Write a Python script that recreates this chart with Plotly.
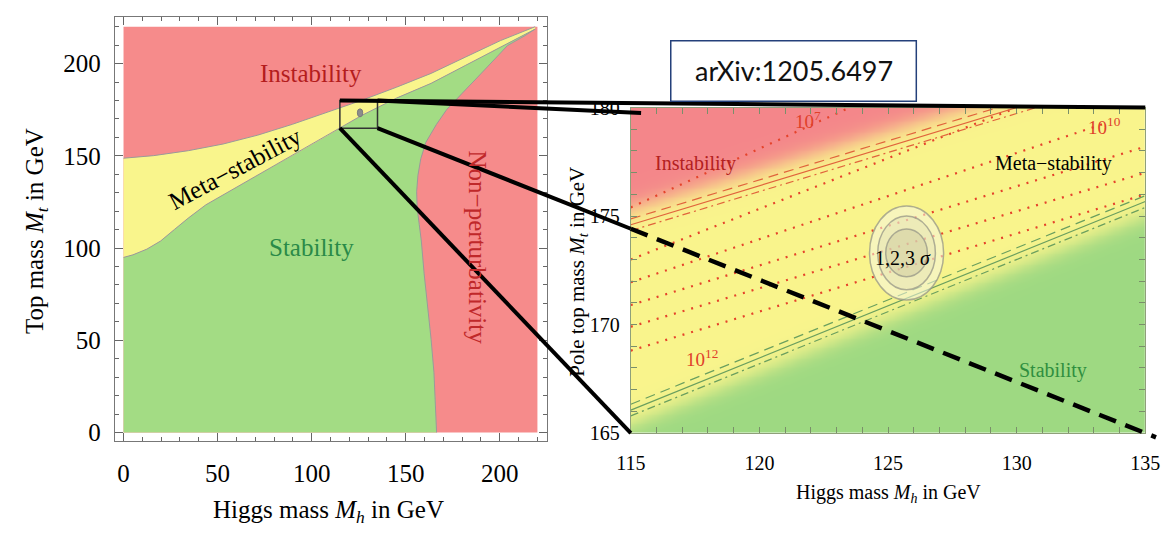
import numpy as np
import plotly.graph_objects as go

W, H = 1171, 540
SERIF = "Liberation Serif, Times New Roman, serif"

# ---------------- left panel: phase-diagram boundaries (GeV) ----------------
meta_upper_mh = [0, 16, 34.5, 52.9, 71.3, 89.8, 108.2, 126.6, 145.1, 163.5, 181.9, 200.4, 218.8]
meta_upper_mt = [148.7, 150.1, 152.8, 156.4, 161.2, 167.1, 173.6, 180.1, 187.2, 194.7, 203.6, 212.5, 220.0]

meta_lower_mh = [0, 5, 12.4, 19.7, 27.1, 34.5, 43.7, 52.9, 71.3, 89.8, 108.2, 126.6, 145.1, 163.5, 181.9, 200.4, 218.8]
meta_lower_mt = [94.9, 96.3, 99.4, 103.8, 110.1, 116.3, 123.4, 128.8, 139.4, 150.1, 160.8, 171.9, 181.3, 189.3, 199.1, 208.9, 218.7]

nonpert_mh = [218.8, 213.3, 204.1, 198.5, 189.3, 180.1, 171.8, 166.3, 160.7, 158.0, 156.5, 155.8,
              156.1, 157.2, 158.3, 159.8, 161.7, 163.5, 165.0, 165.9, 166.4]
nonpert_mt = [218.7, 215.1, 209.8, 203.6, 193.8, 184.0, 175.1, 167.0, 157.3, 148.4, 139.4, 130.5,
              121.6, 112.7, 103.8, 86.0, 68.2, 50.4, 32.6, 14.8, 0.0]

plot_max = 220.0

# ---------------- right panel: zoomed region (GeV) ----------------
zoom_mh = [115, 135]
zoom_mt = [165, 180]

# instability (meta-stability edge) and absolute-stability lines: end points
inst_mh = [115, 135]
inst_mt = [174.6, 181.8]
stab_mh = [115, 135]
stab_mt = [166.06, 175.67]
band_offsets = [0.27, 0.0, -0.27]          # dashed, solid, dash-dot
band_dashes = ["10px,6px", "solid", "8px,4px,2px,4px"]

# instability-scale contours (dotted): start / end points
lam_start_mh = [115, 115, 115, 115, 115, 115]
lam_start_mt = [175.4, 173.0, 171.95, 170.9, 169.9, 168.8]
lam_end_mh = [123.5, 130.0, 133.5, 135, 135, 135]
lam_end_mt = [180.0, 180.0, 179.3, 178.2, 177.0, 176.0]

# measured Higgs / top masses and 1,2,3 sigma contours
mh_best, mt_best = 125.72, 173.3
sig_dmh = [1.44, 1.12, 0.81]
sig_dmt = [2.17, 1.70, 1.10]
sig_fill = ["rgba(245,245,225,0.55)", "rgba(215,212,180,0.30)", "rgba(195,190,150,0.35)"]

# ---------------- colours ----------------
L_RED, L_YEL, L_GRN = "#f68b8b", "#f9f58c", "#a3dc84"
R_RED, R_YEL, R_GRN = "#f4868a", "#f9f48c", "#9ed982"

# axis placement
LX_DOM, LY_DOM = [0.08753, 0.46627], [0.17037, 0.98852]
LX_RNG, LY_RNG = [-4.6, 225.1], [-4.5, 225.3]
RX_DOM, RY_DOM = [632 / W, 1160 / W], [1 - 440 / H, 1 - 100.7 / H]


def to_paper(v, rng, dom):
    return dom[0] + (v - rng[0]) / (rng[1] - rng[0]) * (dom[1] - dom[0])


fig = go.Figure()

# ---- left panel regions ----
fig.add_trace(go.Scatter(x=[0, plot_max, plot_max, 0], y=[0, 0, plot_max, plot_max], fill="toself",
                         fillcolor=L_RED, mode="none", hoverinfo="skip"))
fig.add_trace(go.Scatter(x=meta_upper_mh + meta_lower_mh[::-1], y=meta_upper_mt + meta_lower_mt[::-1],
                         fill="toself", fillcolor=L_YEL, mode="none", hoverinfo="skip"))
fig.add_trace(go.Scatter(x=[0] + meta_lower_mh + nonpert_mh[1:], y=[0] + meta_lower_mt + nonpert_mt[1:],
                         fill="toself", fillcolor=L_GRN, mode="none", hoverinfo="skip"))
for bx, by in [(meta_upper_mh, meta_upper_mt), (meta_lower_mh, meta_lower_mt), (nonpert_mh, nonpert_mt)]:
    fig.add_trace(go.Scatter(x=bx, y=by, mode="lines", line=dict(color="#9a9a9a", width=1), hoverinfo="skip"))

# ---- right panel background ----
gx = np.linspace(zoom_mh[0], zoom_mh[1], 241)
gy = np.linspace(zoom_mt[0], zoom_mt[1], 181)
GX, GY = np.meshgrid(gx, gy)
mt_inst = np.interp(GX, inst_mh, inst_mt)
mt_stab = np.interp(GX, stab_mh, stab_mt)
w_red = 1 / (1 + np.exp(-(GY - mt_inst - 0.75) / 0.28))
w_grn = 1 / (1 + np.exp((GY - mt_stab + 0.65) / 0.28))
fig.add_trace(go.Heatmap(x=gx, y=gy, z=w_red - w_grn, zmin=-1, zmax=1, zsmooth="best",
                         colorscale=[[0, R_GRN], [0.5, R_YEL], [1, R_RED]], showscale=False,
                         hoverinfo="skip", xaxis="x2", yaxis="y2"))

# dotted instability-scale contours
for x0, y0, x1, y1 in zip(lam_start_mh, lam_start_mt, lam_end_mh, lam_end_mt):
    fig.add_trace(go.Scatter(x=[x0, x1], y=[y0, y1], mode="lines", xaxis="x2", yaxis="y2",
                             line=dict(color="#e5432b", width=2.2, dash="2px,7px"), hoverinfo="skip"))

# instability / stability bands
for (bmh, bmt, col) in [(inst_mh, inst_mt, "#e0643c"), (stab_mh, stab_mt, "#6a9f5e")]:
    for off, dash in zip(band_offsets, band_dashes):
        fig.add_trace(go.Scatter(x=bmh, y=[v + off for v in bmt], mode="lines", xaxis="x2", yaxis="y2",
                                 line=dict(color=col, width=1.2, dash=dash), hoverinfo="skip"))

shapes = []
# sigma contours in the zoom and the dot in the full diagram
for dmh, dmt, fc in zip(sig_dmh, sig_dmt, sig_fill):
    shapes.append(dict(type="circle", xref="x2", yref="y2", x0=mh_best - dmh, x1=mh_best + dmh,
                       y0=mt_best - dmt, y1=mt_best + dmt, fillcolor=fc,
                       line=dict(color="rgba(150,150,135,0.75)", width=1.5), layer="above"))
shapes.append(dict(type="circle", xref="x", yref="y", x0=mh_best - sig_dmh[0], x1=mh_best + sig_dmh[0],
                   y0=mt_best - sig_dmt[0], y1=mt_best + sig_dmt[0], fillcolor="#8c8c8c",
                   line=dict(color="#7a7a7a", width=1)))

# zoom rectangle in the full diagram
shapes.append(dict(type="rect", xref="x", yref="y", x0=zoom_mh[0], x1=zoom_mh[1], y0=zoom_mt[0], y1=zoom_mt[1],
                   line=dict(color="#333333", width=1.5)))

# connector lines from the rectangle to the zoomed panel
def lp(mh, mt):
    return to_paper(mh, LX_RNG, LX_DOM), to_paper(mt, LY_RNG, LY_DOM)


def rp(mh, mt):
    return to_paper(mh, zoom_mh, RX_DOM), to_paper(mt, zoom_mt, RY_DOM)


def seg(p, q, dash="solid", width=4):
    return dict(type="line", xref="paper", yref="paper", x0=p[0], y0=p[1], x1=q[0], y1=q[1],
                line=dict(color="black", width=width, dash=dash), layer="above")


shapes.append(seg(lp(zoom_mh[0], zoom_mt[1]), rp(zoom_mh[1], zoom_mt[1])))
shapes.append(seg(lp(zoom_mh[1], zoom_mt[1]), rp(zoom_mh[0] + 0.4, zoom_mt[1] - 0.25)))
shapes.append(seg(lp(zoom_mh[0], zoom_mt[0]), rp(zoom_mh[0], zoom_mt[0])))
p0 = lp(zoom_mh[1], zoom_mt[0])
p1 = rp(zoom_mh[1], zoom_mt[0])
t_edge = (RX_DOM[0] - p0[0]) / (p1[0] - p0[0])
t_end = (1.0 - p0[0]) / (p1[0] - p0[0])
pe = (p0[0] + t_edge * (p1[0] - p0[0]), p0[1] + t_edge * (p1[1] - p0[1]))
pz = (p0[0] + t_end * (p1[0] - p0[0]), p0[1] + t_end * (p1[1] - p0[1]))
shapes.append(seg(p0, pe))
shapes.append(seg(pe, pz, dash="18px,10px", width=4.5))

# reference box
shapes.append(dict(type="rect", xref="paper", yref="paper", x0=673 / W, x1=925 / W, y0=1 - 94 / H, y1=1 - 31 / H,
                   line=dict(color="#24407a", width=1.5), fillcolor="white"))


def note(text, x, y, size, color="black", ref="paper", angle=0, family=SERIF):
    xr, yr = (ref, ref) if ref == "paper" else ("x" + ref[1:], "y" + ref[1:])
    return dict(text=text, x=x, y=y, xref=xr, yref=yr, showarrow=False, textangle=angle,
                xanchor="center", yanchor="middle", font=dict(family=family, size=size, color=color))


annotations = [
    note("arXiv:1205.6497", 799 / W, 1 - 62.5 / H, 27, "#111111", family="Lato, Open Sans, sans-serif"),
    # full diagram labels
    note("Instability", 99.9, 194.7, 25, "#b41d1d", ref="x"),
    note("Stability", 99.9, 100.3, 25, "#2a8a48", ref="x"),
    note("Meta−stability", 59.4, 143.0, 25, "black", ref="x", angle=-28),
    note("Non−perturbativity", 188.4, 100.3, 25, "#c0282a", ref="x", angle=90),
    note("Top mass <i>M<sub>t</sub></i> in GeV", 21.5 / W, 1 - 229.5 / H, 25, angle=-90),
    note("Higgs mass <i>M<sub>h</sub></i> in GeV", 322 / W, 1 - 522 / H, 25),
    # zoom labels
    note("Instability", 117.53, 177.44, 20, "#b32020", ref="x2"),
    note("Meta−stability", 131.45, 177.44, 20, "black", ref="x2"),
    note("Stability", 131.4, 167.9, 20, "#2f8f3f", ref="x2"),
    note("1,2,3 <i>σ</i>", 125.6, 173.08, 20, "black", ref="x2"),
    note("10<sup>7</sup>", 121.9, 179.44, 19, "#e0402a", ref="x2"),
    note("10<sup>10</sup>", 133.43, 179.15, 19, "#e0402a", ref="x2"),
    note("10<sup>12</sup>", 117.78, 168.46, 19, "#e0402a", ref="x2"),
    note("Pole top mass <i>M<sub>t</sub></i> in GeV", 577.6 / W, 1 - 272 / H, 21, angle=-90),
    note("Higgs mass <i>M<sub>h</sub></i> in GeV", 896 / W, 1 - 503 / H, 20),
]

axis_common = dict(showgrid=False, zeroline=False, showline=True, mirror="ticks", ticks="inside",
                   ticklabeloverflow="allow")
fig.update_layout(
    width=W, height=H, margin=dict(l=0, r=0, t=0, b=0),
    paper_bgcolor="white", plot_bgcolor="white", showlegend=False,
    xaxis=dict(domain=LX_DOM, range=LX_RNG, tickvals=[0, 50, 100, 150, 200], ticklen=8, tickcolor="#666",
               linecolor="#777", linewidth=1.2, ticklabelstandoff=10,
               minor=dict(tick0=0, dtick=10, ticks="inside", ticklen=4, tickcolor="#666"),
               tickfont=dict(family=SERIF, size=25, color="black"), anchor="y", **axis_common),
    yaxis=dict(domain=LY_DOM, range=LY_RNG, tickvals=[0, 50, 100, 150, 200], ticklen=8, tickcolor="#666",
               linecolor="#777", linewidth=1.2, ticklabelstandoff=8,
               minor=dict(tick0=0, dtick=10, ticks="inside", ticklen=4, tickcolor="#666"),
               tickfont=dict(family=SERIF, size=25, color="black"), anchor="x", **axis_common),
    xaxis2=dict(domain=RX_DOM, range=zoom_mh, tickvals=[115, 120, 125, 130, 135], ticklen=6,
                tickcolor="#7a8f6a", linecolor="#8fa07a", linewidth=1, ticklabelstandoff=12,
                minor=dict(tick0=115, dtick=1, ticks="inside", ticklen=6, tickcolor="#7a8f6a"),
                tickfont=dict(family=SERIF, size=20, color="black"), anchor="y2", **axis_common),
    yaxis2=dict(domain=RY_DOM, range=zoom_mt, tickvals=[165, 170, 175, 180], ticklen=6,
                tickcolor="#7a8f6a", linecolor="#8fa07a", linewidth=1, ticklabelstandoff=6,
                minor=dict(tick0=165, dtick=1, ticks="inside", ticklen=6, tickcolor="#7a8f6a"),
                tickfont=dict(family=SERIF, size=20, color="black"), anchor="x2", **axis_common),
    shapes=shapes, annotations=annotations,
)

fig.write_html("out.html")
